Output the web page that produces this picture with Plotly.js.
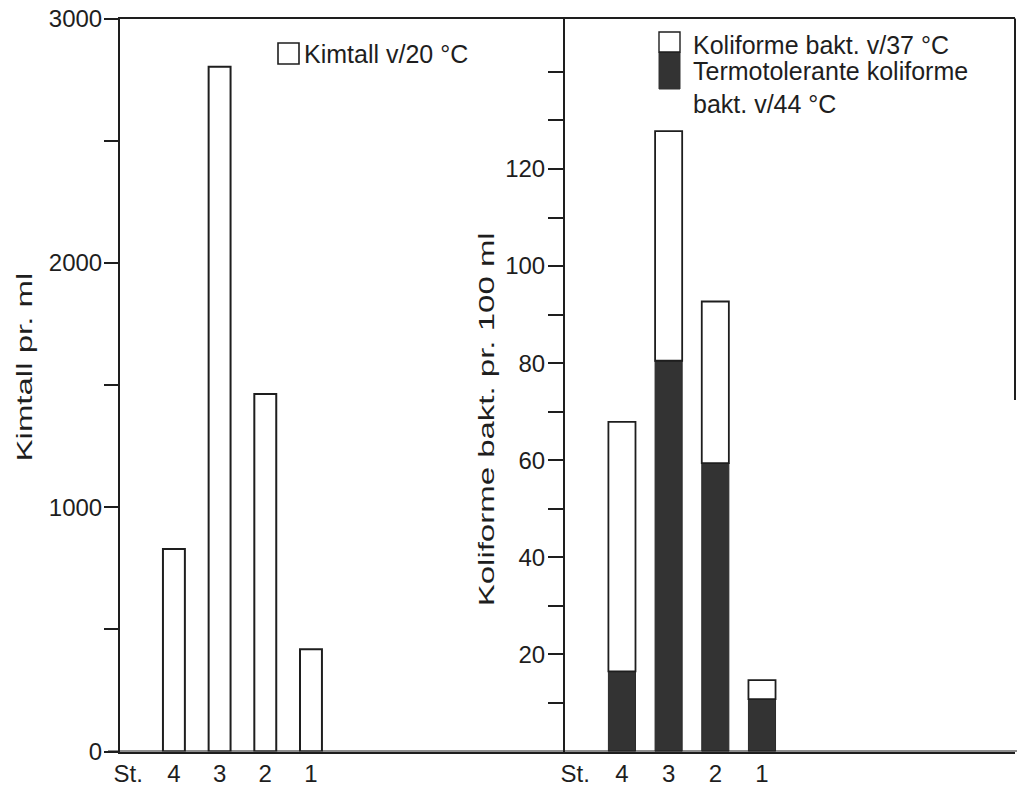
<!DOCTYPE html>
<html>
<head>
<meta charset="utf-8">
<script src="https://cdn.plot.ly/plotly-3.0.1.min.js"></script>
<style>
  html, body { margin: 0; padding: 0; background: #fff; }
  #chart { width: 1017px; height: 787px; }
</style>
</head>
<body>
<div id="chart"></div>
<script>
// ---- data ----
const stationAxisLabels = ['St.', '4', '3', '2', '1'];
const stations = ['4', '3', '2', '1'];
const kimtall20 = [829, 2803, 1463, 418];            // Kimtall pr. ml (v/20 °C)
const koliforme37 = [67.9, 127.8, 92.7, 14.7];       // Koliforme bakt. v/37 °C (total)
const termotolerante44 = [16.5, 80.5, 59.4, 10.8];   // Termotolerante koliforme bakt. v/44 °C
const leftTickVals = [0, 500, 1000, 1500, 2000, 2500, 3000];
const leftTickText = ['0', '', '1000', '', '2000', '', '3000'];
const rightTickVals = [10, 20, 30, 40, 50, 60, 70, 80, 90, 100, 110, 120, 130, 140];
const rightTickText = ['', '20', '', '40', '', '60', '', '80', '', '100', '', '120', '', ''];

// ---- layout helpers (page pixels -> paper) ----
const W = 1017, H = 787;
const px = v => v / W;
const py = v => 1 - v / H;

const FONT = 'Liberation Sans, Arial, Helvetica, sans-serif';
const INK = '#1e1e1e';
const DARK = '#333333';

const whiteSeg = koliforme37.map((t, i) => t - termotolerante44[i]);

const traces = [
  {
    type: 'bar', x: stations, y: kimtall20, xaxis: 'x', yaxis: 'y', cliponaxis: false,
    width: 0.48, marker: { color: '#ffffff', line: { color: INK, width: 2 } },
    name: 'Kimtall v/20 °C', showlegend: false
  },
  {
    type: 'bar', x: stations, y: termotolerante44, xaxis: 'x2', yaxis: 'y2', cliponaxis: false,
    width: 0.58, marker: { color: DARK, line: { color: '#2a2a2a', width: 1 } },
    name: 'Termotolerante koliforme bakt. v/44 °C', showlegend: false
  },
  {
    type: 'bar', x: stations, y: whiteSeg, base: termotolerante44, xaxis: 'x2', yaxis: 'y2', cliponaxis: false,
    width: 0.58, marker: { color: '#ffffff', line: { color: INK, width: 1.8 } },
    name: 'Koliforme bakt. v/37 °C', showlegend: false
  }
];

const yDom = [1 - 751.5 / H, 1 - 18.5 / H];
const axisCommon = {
  showline: true, linecolor: INK, linewidth: 2, showgrid: false, zeroline: false,
  layer: 'above traces',
  tickfont: { family: FONT, size: 24, color: INK }
};

const layout = {
  width: W, height: H,
  margin: { l: 0, r: 0, t: 0, b: 0 },
  paper_bgcolor: '#fff', plot_bgcolor: 'rgba(0,0,0,0)',
  showlegend: false,
  barmode: 'overlay',
  font: { family: FONT, color: INK },
  xaxis: Object.assign({}, axisCommon, {
    domain: [px(120), px(565)], anchor: 'y', type: 'category',
    categoryorder: 'array', categoryarray: stationAxisLabels,
    range: [-0.18, 9.56], ticks: '', mirror: true, fixedrange: true
  }),
  yaxis: Object.assign({}, axisCommon, {
    domain: yDom, anchor: 'x', range: [0, 3000],
    tickmode: 'array', tickvals: leftTickVals, ticktext: leftTickText,
    ticks: 'outside', ticklen: 14, tickwidth: 2, tickcolor: INK, fixedrange: true,
    ticklabelstandoff: -3
  }),
  xaxis2: Object.assign({}, axisCommon, {
    domain: [px(565), px(1015)], anchor: 'y2', type: 'category',
    categoryorder: 'array', categoryarray: stationAxisLabels,
    range: [-0.22, 9.42], ticks: '', mirror: true, fixedrange: true
  }),
  yaxis2: Object.assign({}, axisCommon, {
    domain: yDom, anchor: 'x2', range: [0, 151],
    tickmode: 'array', tickvals: rightTickVals, ticktext: rightTickText,
    ticks: 'outside', ticklen: 15, tickwidth: 2, tickcolor: INK, fixedrange: true,
    ticklabelstandoff: -2
  }),
  shapes: [
    // common baseline drawn over the bars, across both panels
    { type: 'line', xref: 'paper', yref: 'y', x0: px(108), x1: 1, y0: 0, y1: 0,
      layer: 'above', line: { color: INK, width: 2.2 } },
    // right frame edge (faded in the original below mid-height)
    { type: 'line', xref: 'paper', yref: 'paper', x0: px(1015), x1: px(1015), y0: py(18.5), y1: py(400),
      line: { color: INK, width: 2 } },
    // legend key, left panel
    { type: 'rect', xref: 'paper', yref: 'paper', x0: px(278), x1: px(299), y0: py(64), y1: py(43),
      fillcolor: '#fff', line: { color: INK, width: 1.6 } },
    // legend key, right panel (white over dark)
    { type: 'rect', xref: 'paper', yref: 'paper', x0: px(659), x1: px(680), y0: py(89), y1: py(52),
      fillcolor: DARK, line: { color: DARK, width: 1 } },
    { type: 'rect', xref: 'paper', yref: 'paper', x0: px(659), x1: px(680), y0: py(52), y1: py(32),
      fillcolor: '#fff', line: { color: INK, width: 1.4 } }
  ],
  annotations: [
    { text: 'Kimtall pr. ml', xref: 'paper', yref: 'paper', x: px(24), y: py(367),
      xanchor: 'center', yanchor: 'middle', textangle: -90, showarrow: false,
      font: { family: FONT, size: 22, color: INK } },
    { text: 'Koliforme bakt. pr. 100 ml', xref: 'paper', yref: 'paper', x: px(486), y: py(420),
      xanchor: 'center', yanchor: 'middle', textangle: -90, showarrow: false,
      font: { family: FONT, size: 22, color: INK } },
    { text: 'Kimtall v/20 °C', xref: 'paper', yref: 'paper', x: px(302), y: py(54),
      xanchor: 'left', yanchor: 'middle', align: 'left', showarrow: false,
      font: { family: FONT, size: 25, color: INK } },
    { text: 'Koliforme bakt. v/37 °C', xref: 'paper', yref: 'paper', x: px(691), y: py(45),
      xanchor: 'left', yanchor: 'middle', align: 'left', showarrow: false,
      font: { family: FONT, size: 25, color: INK } },
    { text: 'Termotolerante koliforme<br>bakt. v/44 °C', xref: 'paper', yref: 'paper', x: px(691), y: py(88),
      xanchor: 'left', yanchor: 'middle', align: 'left', showarrow: false,
      font: { family: FONT, size: 25, color: INK } }
  ]
};

Plotly.newPlot('chart', traces, layout, { displayModeBar: false, staticPlot: true }).then(gd => {
  // the axis titles in the original are typeset extended along their length
  [0, 1].forEach(i => {
    const g = gd.querySelector('g.annotation[data-index="' + i + '"]');
    if (!g) return;
    const t = g.querySelector('text.annotation-text');
    if (!t) return;
    const bb = t.getBBox();
    const cx = bb.x + bb.width / 2, cy = bb.y + bb.height / 2;
    const prev = t.getAttribute('transform') || '';
    t.setAttribute('transform', prev + ' translate(' + cx + ',' + cy + ') scale(1.5,1) translate(' + (-cx) + ',' + (-cy) + ')');
  });
});
</script>
</body>
</html>
